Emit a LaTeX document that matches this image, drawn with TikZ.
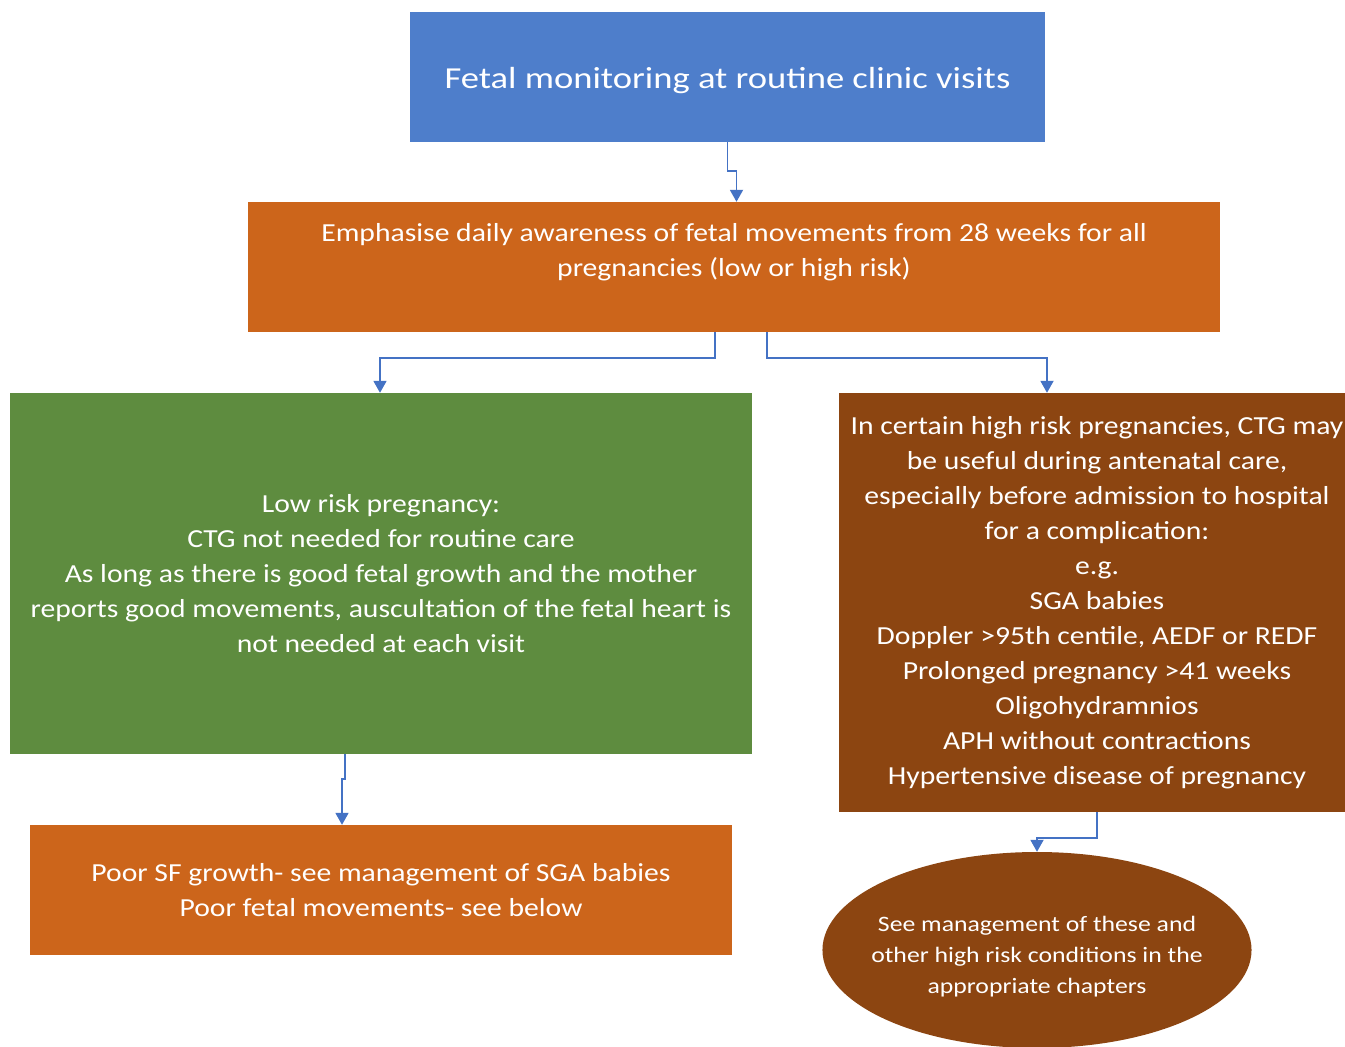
\documentclass[tikz,border=0pt]{standalone}
\usepackage{fontspec}
\setmainfont{Carlito}
\newfontfamily\wideA[FakeStretch=1.14]{Carlito}
\newfontfamily\wideB[FakeStretch=1.2]{Carlito}
\newfontfamily\wideC[FakeStretch=1.17]{Carlito}
\usetikzlibrary{arrows.meta,shapes.geometric}
\definecolor{cblue}{HTML}{4E7ECB}
\definecolor{corange}{HTML}{CC651B}
\definecolor{cgreen}{HTML}{5E8C3F}
\definecolor{cbrown}{HTML}{8C4511}
\definecolor{carrow}{HTML}{4472C4}
\tikzset{
  box/.style={rectangle, draw=none, text=white, align=center, inner sep=0pt,
    font=\wideA\fontsize{26}{35}\selectfont},
  arr/.style={draw=carrow, line width=1.8pt, -{Triangle[width=13pt,length=12pt]}},
}
\begin{document}
\begin{tikzpicture}[x=1pt,y=-1pt]
\useasboundingbox[fill=white] (0,0) rectangle (1345,1047);
\node[box, fill=cblue, minimum width=635pt, minimum height=130pt,
  font=\wideB\fontsize{30.5}{38}\selectfont] (b1) at (727.5,77)
  {\raisebox{-4pt}[\height][\depth]{Fetal monitoring at routine clinic visits}};
\node[box, fill=corange, minimum width=972pt, minimum height=130pt] (b2) at (734,267)
  {Emphasise daily awareness of fetal movements from 28 weeks for all\\
   pregnancies (low or high risk)\\ \mbox{}};
\node[box, fill=cgreen, minimum width=742pt, minimum height=361pt] (b3) at (381,573.5)
  {Low risk pregnancy:\\
   CTG not needed for routine care\\
   As long as there is good fetal growth and the mother\\
   reports good movements, auscultation of the fetal heart is\\
   not needed at each visit};
\node[box, fill=cbrown, minimum width=516pt, minimum height=419pt] (b4) at (1097,602.5)
  {In certain high risk pregnancies, CTG may\\
   be useful during antenatal care,\\
   especially before admission to hospital\\
   for a complication:\\
   e.g.\\
   SGA babies\\
   Doppler >95th centile, AEDF or REDF\\
   Prolonged pregnancy >41 weeks\\
   Oligohydramnios\\
   APH without contractions\\
   Hypertensive disease of pregnancy};
\node[box, ellipse, fill=cbrown, minimum width=422pt, minimum height=196pt,
  inner xsep=-14pt, font=\wideC\fontsize{22}{31}\selectfont] (ell) at (1037,950)
  {\raisebox{-6pt}[\height][\depth]{\begin{tabular}{@{}c@{}}See management of these and\\
   other high risk conditions in the\\
   appropriate chapters\end{tabular}}};
\node[box, fill=corange, minimum width=702pt, minimum height=130pt] (b5) at (381,890)
  {Poor SF growth- see management of SGA babies\\
   Poor fetal movements- see below};
\draw[arr] (b1.south) -- ++(0,29) -| ([xshift=2.5pt]b2.north);
\draw[arr] ([xshift=-19pt]b2.south) -- ++(0,26) -| ([xshift=-1pt]b3.north);
\draw[arr] ([xshift=33pt]b2.south) -- ++(0,26) -| ([xshift=-50pt]b4.north);
\draw[arr] ([xshift=-36pt]b3.south) -- ++(0,25) -| ([xshift=-39pt]b5.north);
\draw[arr] (b4.south) -- ++(0,26) -| (ell.north);
\end{tikzpicture}
\end{document}
